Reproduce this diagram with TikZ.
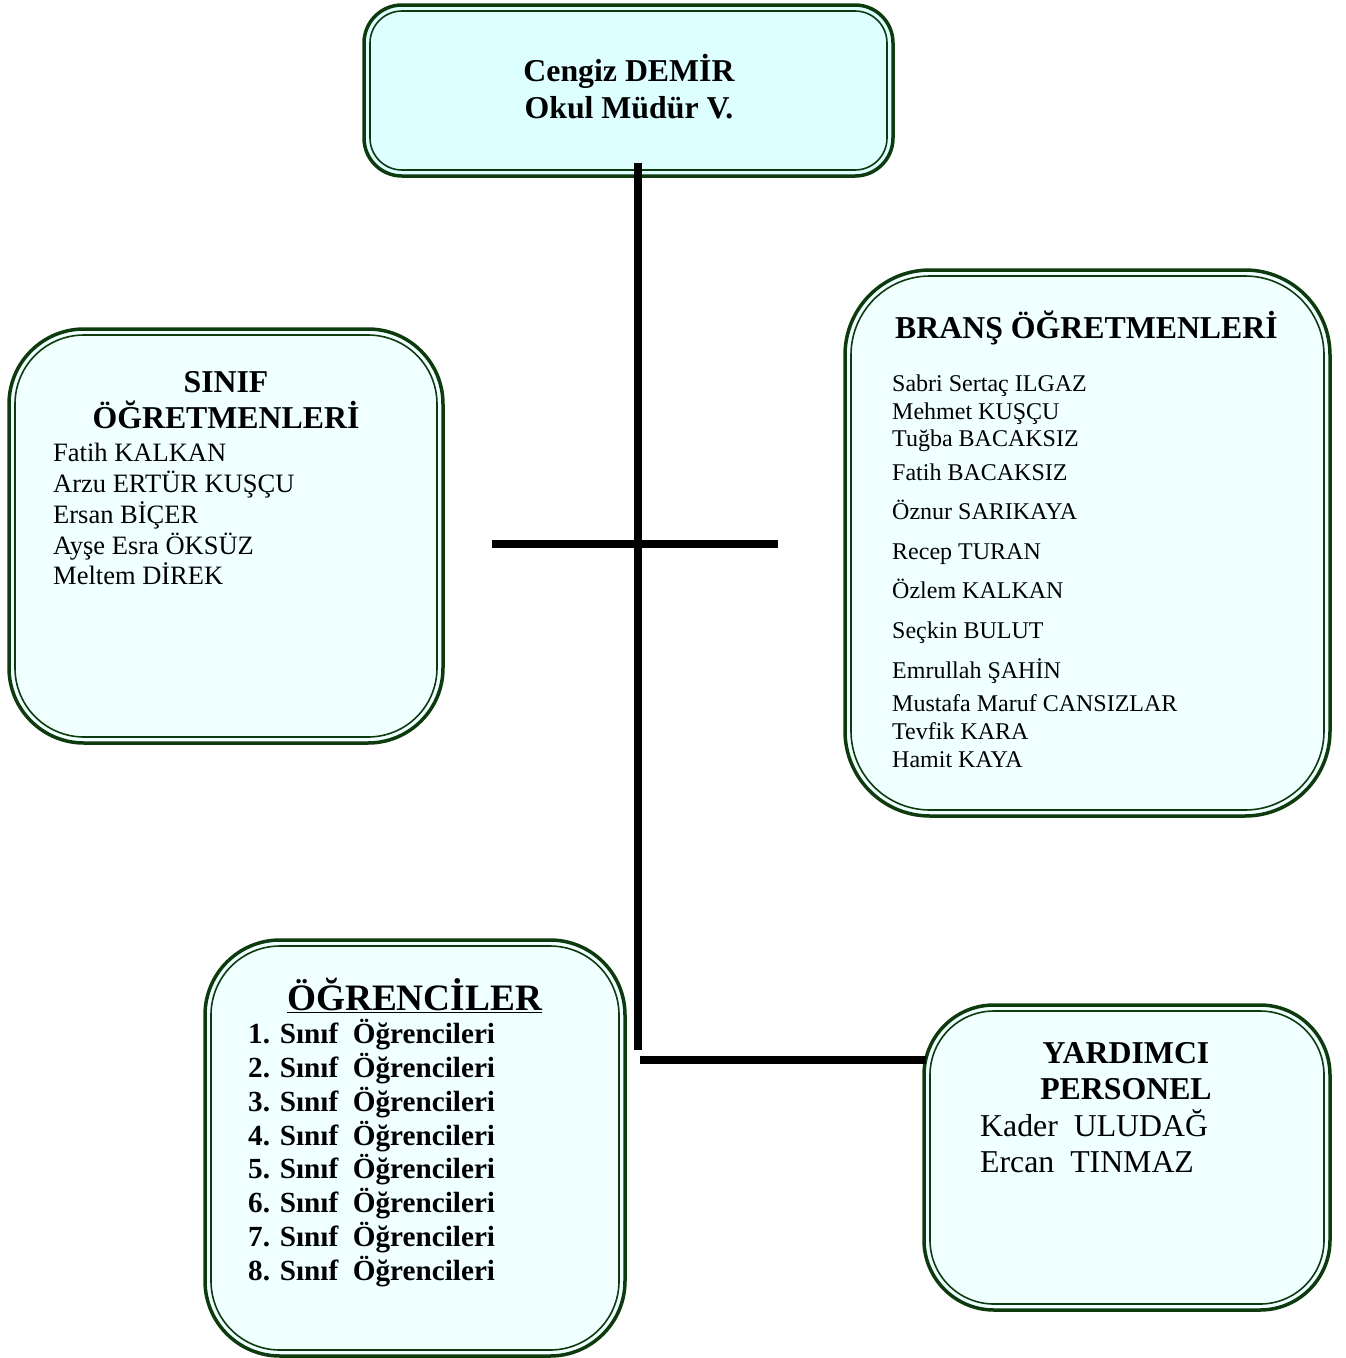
\documentclass[tikz,border=0pt]{standalone}
\usepackage{fontspec}
\setmainfont{Liberation Serif}
\definecolor{bgreen}{HTML}{0E3B0E}
\definecolor{topfill}{HTML}{DDFFFF}
\definecolor{boxfill}{HTML}{F0FFFF}
\begin{document}
\begin{tikzpicture}[x=1pt,y=-1pt,
  outerb/.style={draw=bgreen,line width=3.5pt,fill=boxfill},
  innerb/.style={draw=bgreen,line width=1.6pt},
  conn/.style={draw=black,line width=7.5pt},
  headb/.style={font=\fontsize{31.8}{38}\selectfont\bfseries,inner sep=0pt},
  nameA/.style={font=\fontsize{26.5}{31}\selectfont,inner sep=0pt,anchor=base west},
  nameB/.style={font=\fontsize{24}{28}\selectfont,inner sep=0pt,anchor=base west},
  itemb/.style={font=\fontsize{29.2}{34}\selectfont\bfseries,inner sep=0pt,anchor=base west},
  nameC/.style={font=\fontsize{31.8}{38}\selectfont,inner sep=0pt,anchor=base west}]
\useasboundingbox (0,0) rectangle (1346,1358);
\fill[white] (0,0) rectangle (1346,1358);

% boxes
\draw[outerb,fill=topfill,rounded corners=38pt] (364,5) rectangle (893,176);
\draw[innerb,rounded corners=32pt] (370,11) rectangle (887,170);
\draw[outerb,rounded corners=75pt] (9,329) rectangle (443,743);
\draw[innerb,rounded corners=69pt] (15,335) rectangle (437,737);
\draw[outerb,rounded corners=85pt] (845,270) rectangle (1330,816);
\draw[innerb,rounded corners=79pt] (851,276) rectangle (1324,810);
\draw[outerb,rounded corners=75pt] (205,940) rectangle (625,1356);
\draw[innerb,rounded corners=69pt] (211,946) rectangle (619,1350);
\draw[outerb,rounded corners=70pt] (924,1005) rectangle (1330,1310);
\draw[innerb,rounded corners=64pt] (930,1011) rectangle (1324,1304);

% connectors
\coordinate (vtop) at (638,163);
\coordinate (vbot) at (638,1050);
\coordinate (hl) at (492,544);
\coordinate (hr) at (778,544);
\coordinate (yl) at (640,1060);
\coordinate (yr) at (926,1060);
\draw[conn] (vtop) -- (vbot);
\draw[conn] (hl) -- (hr);
\draw[conn] (yl) -- (yr);

% top box text
\node[headb,anchor=base] (t1) at (629,81) {Cengiz DEMİR};
\node[headb,anchor=base] (t2) at (629,118) {Okul Müdür V.};

% sinif
\node[headb,anchor=base] (s1) at (226,392) {SINIF};
\node[headb,anchor=base] (s2) at (226,428) {ÖĞRETMENLERİ};
\node[nameA] (s3) at (53,461) {Fatih KALKAN};
\node[nameA] (s4) at (53,492) {Arzu ERTÜR KUŞÇU};
\node[nameA] (s5) at (53,523) {Ersan BİÇER};
\node[nameA] (s6) at (53,554) {Ayşe Esra ÖKSÜZ};
\node[nameA] (s7) at (53,584) {Meltem DİREK};

% brans
\node[headb,anchor=base west] (b0) at (895,338) {BRANŞ ÖĞRETMENLERİ};
\node[nameB] (b1) at (892,391) {Sabri Sertaç ILGAZ};
\node[nameB] (b2) at (892,419) {Mehmet KUŞÇU};
\node[nameB] (b3) at (892,446) {Tuğba BACAKSIZ};
\node[nameB] (b4) at (892,480) {Fatih BACAKSIZ};
\node[nameB] (b5) at (892,519) {Öznur SARIKAYA};
\node[nameB] (b6) at (892,559) {Recep TURAN};
\node[nameB] (b7) at (892,598) {Özlem KALKAN};
\node[nameB] (b8) at (892,638) {Seçkin BULUT};
\node[nameB] (b9) at (892,678) {Emrullah ŞAHİN};
\node[nameB] (b10) at (892,711) {Mustafa Maruf CANSIZLAR};
\node[nameB] (b11) at (892,739) {Tevfik KARA};
\node[nameB] (b12) at (892,767) {Hamit KAYA};

% ogrenciler
\node[font=\fontsize{37.3}{44}\selectfont\bfseries,inner sep=0pt,anchor=base] (o0) at (414.5,1010) {\underline{ÖĞRENCİLER}};
\node[itemb] (o1) at (248,1043) {1. Sınıf\ \ Öğrencileri};
\node[itemb] (o2) at (248,1077) {2. Sınıf\ \ Öğrencileri};
\node[itemb] (o3) at (248,1111) {3. Sınıf\ \ Öğrencileri};
\node[itemb] (o4) at (248,1145) {4. Sınıf\ \ Öğrencileri};
\node[itemb] (o5) at (248,1178) {5. Sınıf\ \ Öğrencileri};
\node[itemb] (o6) at (248,1212) {6. Sınıf\ \ Öğrencileri};
\node[itemb] (o7) at (248,1246) {7. Sınıf\ \ Öğrencileri};
\node[itemb] (o8) at (248,1280) {8. Sınıf\ \ Öğrencileri};

% yardimci
\node[headb,anchor=base] (y1) at (1126,1063) {YARDIMCI};
\node[headb,anchor=base] (y2) at (1126,1099) {PERSONEL};
\node[nameC] (y3) at (980,1136) {Kader\ \ ULUDAĞ};
\node[nameC] (y4) at (980,1172) {Ercan\ \ TINMAZ};
\end{tikzpicture}
\end{document}
